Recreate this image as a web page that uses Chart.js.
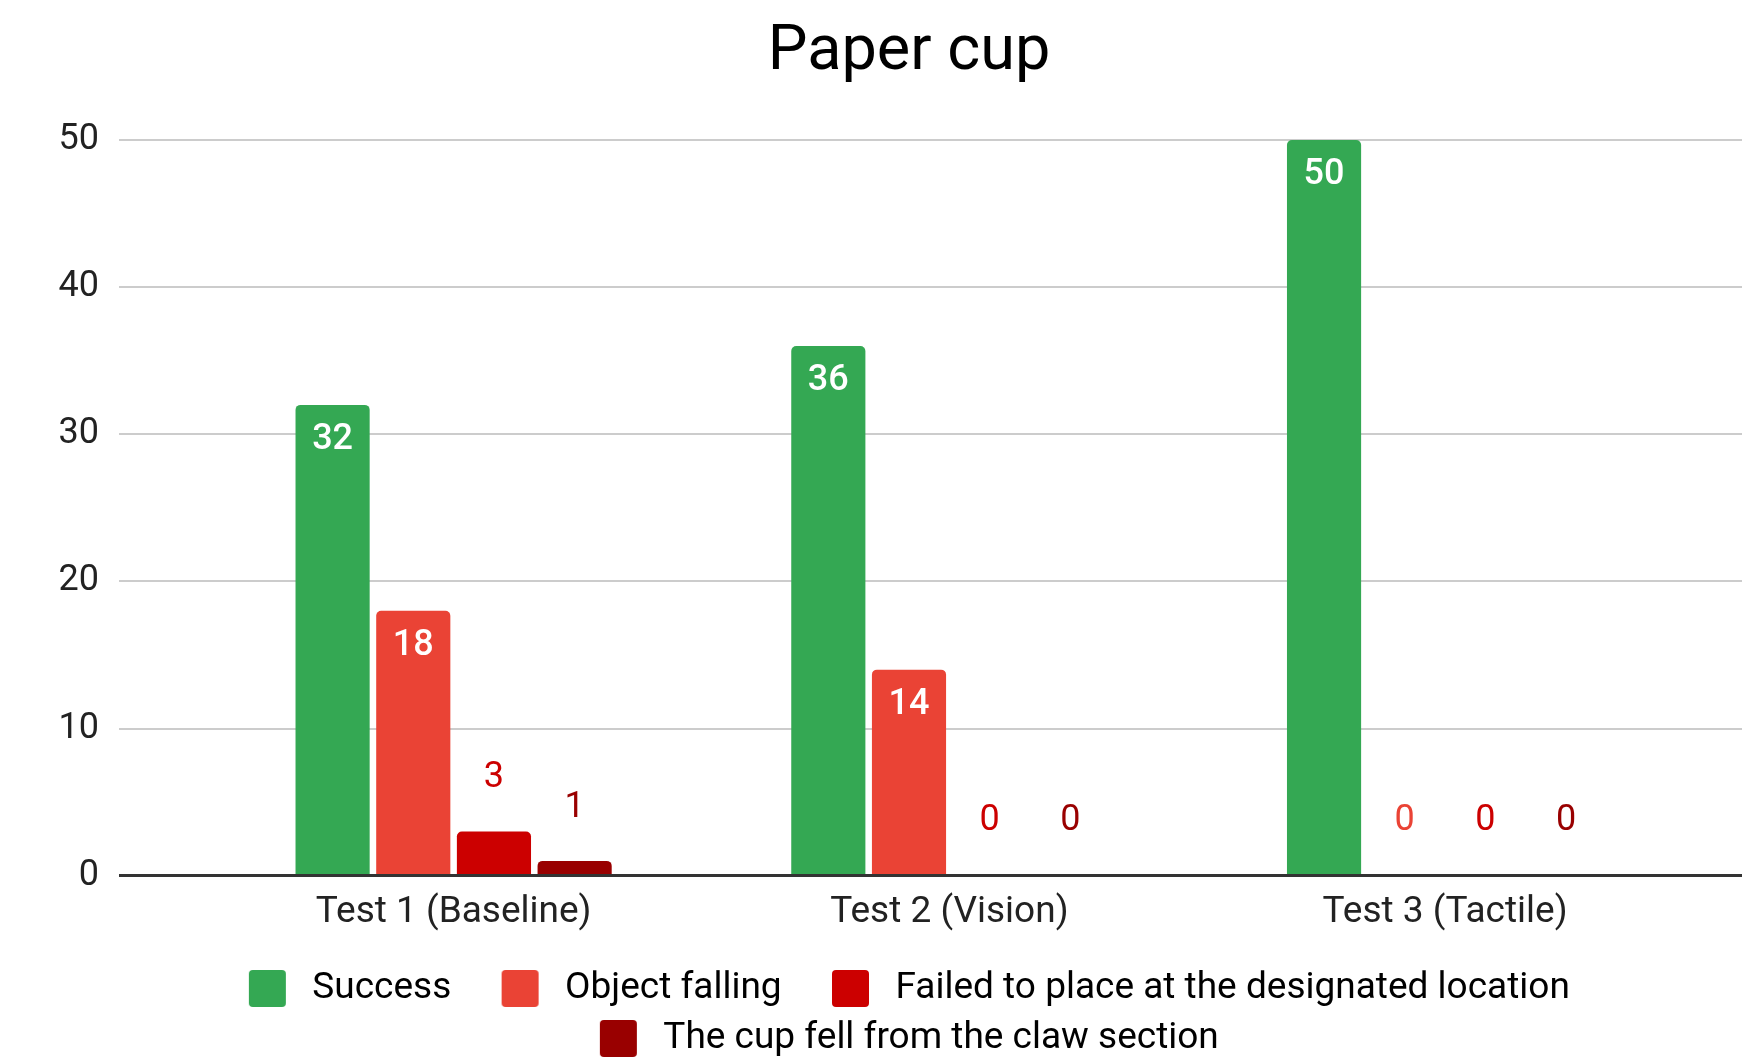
<!DOCTYPE html>
<html>
<head>
<meta charset="utf-8">
<title>Paper cup</title>
<script src="https://cdn.jsdelivr.net/npm/chart.js@4.4.0/dist/chart.umd.min.js"></script>
<style>
  html, body { margin: 0; padding: 0; background: #fff; }
</style>
</head>
<body>
<canvas id="chart" width="1742" height="1060"></canvas>
<script>
const categories = ['Test 1 (Baseline)', 'Test 2 (Vision)', 'Test 3 (Tactile)'];
const seriesNames = ['Success', 'Object falling', 'Failed to place at the designated location', 'The cup fell from the claw section'];
const success = [32, 36, 50];
const objectFalling = [18, 14, 0];
const failedToPlace = [3, 0, 0];
const cupFell = [1, 0, 0];
const colors = ['#34a853', '#ea4335', '#cc0000', '#990000'];

const FONT = 'Roboto, "Noto Sans", Arial, sans-serif';
const LEAD = 19; // blank space before each legend swatch

// legend swatch: rounded square with some blank room on the left
const swatch = (color) => {
  const c = document.createElement('canvas');
  c.width = LEAD + 45;
  c.height = 37;
  const g = c.getContext('2d');
  g.fillStyle = color;
  g.beginPath();
  if (g.roundRect) g.roundRect(LEAD, 0, 37, 37, 4);
  else g.rect(LEAD, 0, 37, 37);
  g.fill();
  return c;
};

// value labels: white inside tall bars, coloured above short ones
const barLabels = {
  id: 'barLabels',
  afterDatasetsDraw(chart) {
    const ctx = chart.ctx;
    const area = chart.chartArea;
    const y0 = chart.scales.y.getPixelForValue(0);
    ctx.save();
    ctx.strokeStyle = '#333';
    ctx.lineWidth = 3;
    ctx.beginPath();
    ctx.moveTo(area.left, y0);
    ctx.lineTo(area.right, y0);
    ctx.stroke();
    ctx.textAlign = 'center';
    ctx.textBaseline = 'middle';
    chart.data.datasets.forEach((ds, i) => {
      chart.getDatasetMeta(i).data.forEach((bar, j) => {
        const v = ds.data[j];
        const h = bar.base - bar.y;
        if (h > 60) {
          ctx.fillStyle = '#fff';
          ctx.font = '500 36px ' + FONT;
          ctx.fillText(String(v), bar.x, bar.y + 35);
        } else {
          ctx.fillStyle = ds.backgroundColor;
          ctx.font = '36px ' + FONT;
          ctx.fillText(String(v), bar.x, bar.y - (v === 0 ? 55 : 53));
        }
      });
    });
    ctx.restore();
  }
};

const values = [success, objectFalling, failedToPlace, cupFell];

new Chart(document.getElementById('chart'), {
  type: 'bar',
  data: {
    labels: categories,
    datasets: values.map((d, i) => ({
      label: seriesNames[i],
      data: d,
      backgroundColor: colors[i],
      borderRadius: { topLeft: 5, topRight: 5, bottomLeft: 0, bottomRight: 0 },
      borderSkipped: false,
      categoryPercentage: 0.651,
      barPercentage: 0.919
    }))
  },
  options: {
    responsive: false,
    animation: false,
    layout: { padding: { left: 55, right: -21, top: 0, bottom: -7 } },
    plugins: {
      title: {
        display: true,
        text: 'Paper cup',
        color: '#000',
        font: { family: FONT, size: 63, weight: 'normal' },
        padding: { top: 15.5, bottom: 49 }
      },
      legend: {
        position: 'bottom',
        labels: {
          font: { family: FONT, size: 37 },
          color: '#222',
          usePointStyle: true,
          pointStyleWidth: LEAD + 45,
          padding: 13,
          generateLabels: (chart) => chart.data.datasets.map((ds, i) => ({
            text: ds.label + '  ',
            fillStyle: ds.backgroundColor,
            strokeStyle: ds.backgroundColor,
            lineWidth: 0,
            pointStyle: swatch(ds.backgroundColor),
            hidden: false,
            datasetIndex: i
          }))
        }
      },
      tooltip: { enabled: false }
    },
    scales: {
      x: {
        grid: { display: false, drawTicks: false },
        border: { display: false },
        ticks: { font: { family: FONT, size: 37 }, color: '#222', padding: 15 },
        // google-style spacing: groups are narrower than the full plot width
        afterBuildTicks: (s) => { s._startValue = -0.675; s._valueRange = 3.274; },
        afterFit: (s) => { s.height += 7; }
      },
      y: {
        min: 0,
        max: 50,
        ticks: { stepSize: 10, font: { family: FONT, size: 36 }, color: '#222', padding: 20 },
        grid: {
          drawTicks: false,
          color: '#ccc',
          lineWidth: 2
        },
        border: { display: false },
        afterFit: (s) => { s.width = 64; }
      }
    }
  },
  plugins: [barLabels]
});
</script>
</body>
</html>
